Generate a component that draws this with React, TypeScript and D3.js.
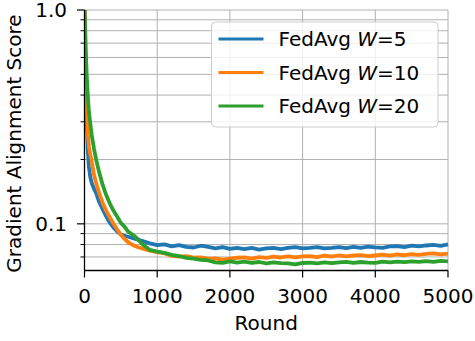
import React from "react";
import * as d3 from "d3";

const rounds = [
  0, 10, 20, 30, 45, 60, 80, 100, 130, 160, 200, 250, 300, 350, 400, 450, 500, 550, 600, 700, 800, 900,
  1000, 1100, 1200, 1300, 1400, 1500, 1600, 1700, 1800, 1900, 2000, 2100, 2200, 2300, 2400, 2500, 2600,
  2700, 2800, 2900, 3000, 3100, 3200, 3300, 3400, 3500, 3600, 3700, 3800, 3900, 4000, 4100, 4200, 4300,
  4400, 4500, 4600, 4700, 4800, 4900, 5000,
];

const w5 = [
  1.0, 0.6, 0.42, 0.31, 0.225, 0.185, 0.165, 0.155, 0.146, 0.139, 0.127, 0.117, 0.108, 0.101, 0.096, 0.092,
  0.089, 0.088, 0.087, 0.085, 0.083, 0.081, 0.0795, 0.0802, 0.0785, 0.0795, 0.078, 0.0775, 0.079, 0.078,
  0.0768, 0.0778, 0.0763, 0.0772, 0.0762, 0.0772, 0.0758, 0.0768, 0.0772, 0.0762, 0.0772, 0.0778, 0.0768,
  0.0772, 0.0778, 0.0768, 0.0772, 0.0779, 0.077, 0.078, 0.0772, 0.0782, 0.0776, 0.0772, 0.0784, 0.0786,
  0.0778, 0.079, 0.0784, 0.0792, 0.0797, 0.0789, 0.0802,
];

const w10 = [
  1.0, 0.62, 0.45, 0.36, 0.27, 0.23, 0.21, 0.195, 0.17, 0.155, 0.14, 0.125, 0.115, 0.107, 0.1, 0.094, 0.089,
  0.085, 0.082, 0.0785, 0.0765, 0.075, 0.0737, 0.0728, 0.0708, 0.0703, 0.0707, 0.0695, 0.0697, 0.0688,
  0.069, 0.068, 0.0687, 0.0694, 0.0697, 0.0688, 0.0699, 0.0693, 0.0702, 0.0696, 0.0704, 0.0696, 0.0705,
  0.0707, 0.0698, 0.071, 0.0703, 0.0712, 0.0704, 0.0711, 0.0714, 0.0706, 0.0711, 0.0717, 0.071, 0.072,
  0.0713, 0.0722, 0.0716, 0.0724, 0.0727, 0.072, 0.0726,
];

const w20 = [
  1.0, 0.8, 0.62, 0.5, 0.4, 0.335, 0.295, 0.26, 0.225, 0.2, 0.175, 0.152, 0.136, 0.124, 0.115, 0.108, 0.101,
  0.097, 0.092, 0.087, 0.08, 0.0755, 0.0742, 0.0732, 0.0716, 0.0707, 0.0693, 0.0688, 0.0678, 0.0674, 0.066,
  0.0657, 0.0667, 0.0659, 0.0665, 0.0656, 0.0663, 0.0654, 0.0661, 0.0655, 0.0653, 0.0646, 0.0656, 0.0659,
  0.0653, 0.0661, 0.0655, 0.0661, 0.0664, 0.0657, 0.0663, 0.0659, 0.0657, 0.0666, 0.066, 0.0666, 0.0662,
  0.0668, 0.0664, 0.0669, 0.0664, 0.0671, 0.0667,
];

const seriesNames = ["5", "10", "20"];
const seriesColors = ["#1f77b4", "#ff7f0e", "#2ca02c"];
const xTicks = [0, 1000, 2000, 3000, 4000, 5000];
const yMajor = [0.1, 1.0];
const yMinor = [0.07, 0.08, 0.09, 0.2, 0.3, 0.4, 0.5, 0.6, 0.7, 0.8, 0.9];

const W = 475;
const H = 341;
const m = { top: 10, right: 27, bottom: 70.5, left: 84.5 };
const font = "DejaVu Sans, sans-serif";
const fs = 20;

export default function App() {
  const iw = W - m.left - m.right;
  const ih = H - m.top - m.bottom;
  const x = d3.scaleLinear().domain([0, 5000]).range([0, iw]);
  const y = d3.scaleLog().domain([0.0605, 1.0]).range([ih, 0]);
  const line = d3
    .line<number>()
    .x((_, i) => x(rounds[i]))
    .y((d) => y(d));
  const series = [w5, w10, w20];
  const grid = "#b0b0b0";

  return (
    <svg width={W} height={H} style={{ position: "absolute", left: 0, top: 0 }} fontFamily={font}>
      <g transform={`translate(${m.left},${m.top})`}>
        {/* grid, major and minor */}
        {xTicks.map((t) => (
          <line key={"gx" + t} x1={x(t)} x2={x(t)} y1={0} y2={ih} stroke={grid} strokeWidth={1} />
        ))}
        {[...yMajor, ...yMinor].map((t) => (
          <line key={"gy" + t} x1={0} x2={iw} y1={y(t)} y2={y(t)} stroke={grid} strokeWidth={1} />
        ))}

        <defs>
          <clipPath id="clip">
            <rect x={0} y={-3} width={iw + 3} height={ih + 3} />
          </clipPath>
        </defs>
        <g clipPath="url(#clip)">
          {series.map((s, i) => (
            <path
              key={i}
              d={line(s) || ""}
              fill="none"
              stroke={seriesColors[i]}
              strokeWidth={3.8}
              strokeLinejoin="round"
            />
          ))}
        </g>

        {/* spines */}
        <line x1={0} x2={0} y1={0} y2={ih} stroke="#000" strokeWidth={1.3} />
        <line x1={0} x2={iw} y1={ih} y2={ih} stroke="#000" strokeWidth={1.3} />

        {xTicks.map((t) => (
          <g key={"xt" + t} transform={`translate(${x(t)},${ih})`}>
            <line y1={0} y2={7} stroke="#000" strokeWidth={1.2} />
            <text y={32} textAnchor="middle" fontSize={fs} fill="#000">
              {t}
            </text>
          </g>
        ))}

        {yMajor.map((t) => (
          <g key={"yt" + t} transform={`translate(0,${y(t)})`}>
            <line x1={-7.5} x2={0} stroke="#000" strokeWidth={1.2} />
            <text x={-17.5} dy="0.36em" textAnchor="end" fontSize={fs} fill="#000">
              {d3.format(".1f")(t)}
            </text>
          </g>
        ))}
        {yMinor.map((t) => (
          <line key={"ym" + t} x1={-4} x2={0} y1={y(t)} y2={y(t)} stroke="#000" strokeWidth={1} />
        ))}

        <text x={iw / 2} y={ih + 59.5} textAnchor="middle" fontSize={fs} fill="#000">
          Round
        </text>
        <text
          transform={`translate(${-63.5},${133.5}) rotate(-90)`}
          textAnchor="middle"
          fontSize={fs}
          fill="#000"
        >
          Gradient Alignment Score
        </text>
      </g>

      {/* legend */}
      <g transform="translate(211.5,22)">
        <rect width={226.5} height={105} rx={4} fill="#fff" fillOpacity={0.8} stroke="#ccc" strokeWidth={1} />
        {seriesNames.map((n, i) => (
          <g key={n} transform={`translate(0,${17 + i * 33.5})`}>
            <line x1={7} x2={52} stroke={seriesColors[i]} strokeWidth={3} />
            <text x={67} dy="0.36em" fontSize={fs} fill="#000">
              FedAvg <tspan fontStyle="italic">W</tspan>=
              {n}
            </text>
          </g>
        ))}
      </g>
    </svg>
  );
}
